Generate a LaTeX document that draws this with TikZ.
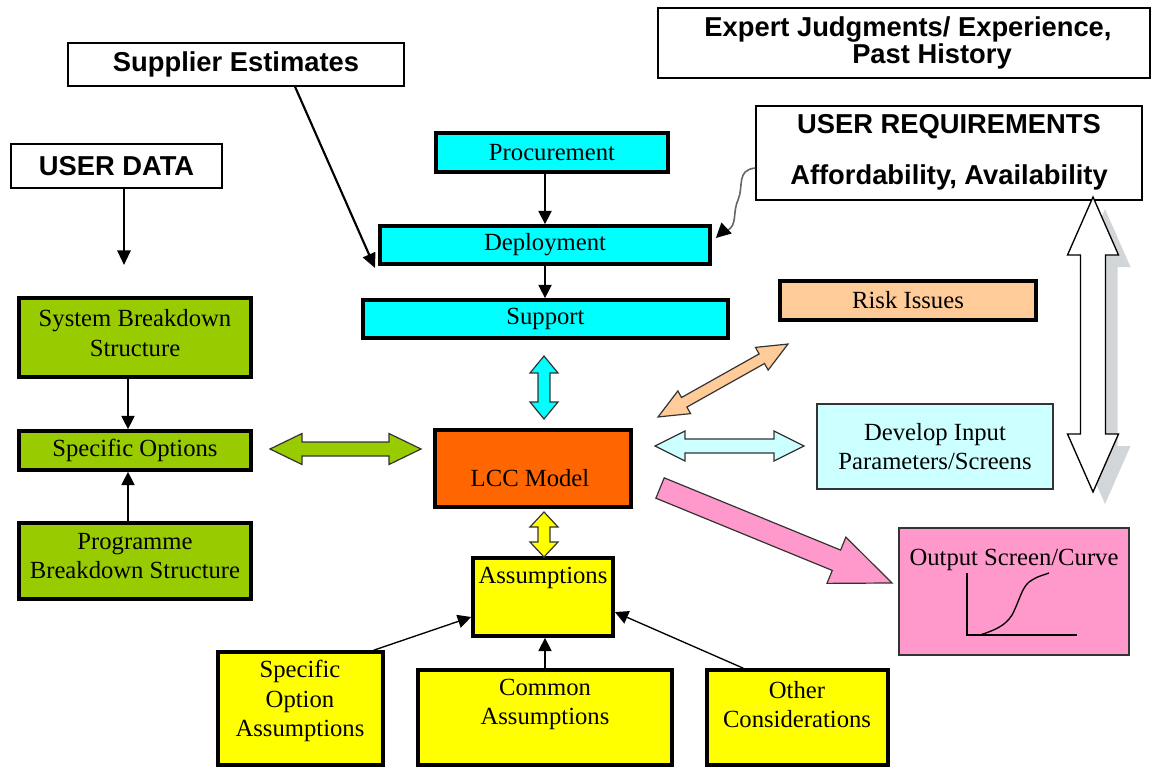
\documentclass[tikz,border=0pt]{standalone}
\usepackage{fontspec}
\setmainfont{Liberation Serif}
\setsansfont{Liberation Sans}
\usetikzlibrary{arrows.meta,calc}
\definecolor{cyanc}{HTML}{00FFFF}
\definecolor{greenc}{HTML}{99CC00}
\definecolor{orangec}{HTML}{FF6600}
\definecolor{yellowc}{HTML}{FFFF00}
\definecolor{peachc}{HTML}{FFCC99}
\definecolor{lcyanc}{HTML}{CCFFFF}
\definecolor{pinkc}{HTML}{FF99CC}
\definecolor{shadowc}{HTML}{D2D6D8}
\definecolor{edgec}{HTML}{333333}
\newcommand\serifsz{\rmfamily\fontsize{18.5}{22}\selectfont}
\newcommand\labsz{\sffamily\bfseries\fontsize{20.5}{19}\selectfont}
% double arrow: style, center, angle, half length, shaft half width, head half width, head length
\newcommand\dblarr[7]{%
  \path[#1, shift={#2}, rotate=#3] (-#4,0) -- (-#4+#7,#6) -- (-#4+#7,#5) -- (#4-#7,#5) -- (#4-#7,#6) -- (#4,0)
    -- (#4-#7,-#6) -- (#4-#7,-#5) -- (-#4+#7,-#5) -- (-#4+#7,-#6) -- cycle;}
% single arrow
\newcommand\sglarr[7]{%
  \path[#1, shift={#2}, rotate=#3] (-#4,#5) -- (#4-#7,#5) -- (#4-#7,#6) -- (#4,0)
    -- (#4-#7,-#6) -- (#4-#7,-#5) -- (-#4,-#5) -- cycle;}
\tikzset{
  size/.style 2 args={minimum width=#1*0.75pt, minimum height=#2*0.75pt},
  wbox/.style={draw=black, line width=1pt, fill=white, rectangle, inner sep=0pt, font=\labsz, align=center},
  tbox/.style={draw=black, line width=2.8pt, rectangle, inner sep=0pt, font=\serifsz, align=center},
  mbox/.style={draw=edgec, line width=1.5pt, rectangle, inner sep=0pt, font=\serifsz, align=center},
  txt/.style={inner sep=0pt, font=\serifsz, align=center},
  lab/.style={inner sep=0pt, font=\labsz, align=center},
  conn/.style={draw=black, line width=1pt, -{Triangle[length=10pt,width=10pt]}},
  bigconn/.style={draw=black, line width=1.6pt, -{Triangle[length=11pt,width=10pt]}},
  fatarrow/.style={draw=edgec, line width=0.9pt, line join=miter},
}
\begin{document}
\begin{tikzpicture}[x=0.75pt,y=-0.75pt]
\useasboundingbox (0,0) rectangle (1151,767);

% label boxes
\node[wbox,size={336}{43}] (sup) at (236,64.5) {Supplier Estimates};
\node[wbox,size={492}{70}] (exp) at (904,43) {};
\node[lab] (exp1) at (908,29) {Expert Judgments/ Experience,};
\node[lab] (exp2) at (932,56.5) {Past History};
\node[wbox,size={386}{94}] (ureq) at (949,153) {};
\node[lab] (ureq1) at (949,127) {USER REQUIREMENTS};
\node[lab] (ureq2) at (949,177) {Affordability, Availability};
\node[wbox,size={211}{44}] (udata) at (116.5,166) {USER DATA};

% coloured boxes
\node[tbox,fill=cyanc,size={232}{39}] (proc) at (552,152.5) {Procurement};
\node[tbox,fill=cyanc,size={330}{38}] (depl) at (545,245) {Deployment};
\node[tbox,fill=cyanc,size={365}{38}] (supp) at (545.5,319) {Support};
\node[tbox,fill=greenc,size={232}{79}] (sbs) at (135,337.5) {};
\node[txt] (sbst) at (135,333) {System Breakdown\\Structure};
\node[tbox,fill=greenc,size={232}{39}] (sopt) at (135,450.5) {Specific Options};
\node[tbox,fill=greenc,size={232}{76}] (pbs) at (135,561) {};
\node[txt] (pbst) at (135,556) {Programme\\Breakdown Structure};
\node[tbox,fill=orangec,size={196}{77}] (lcc) at (533,468.5) {};
\node[txt] (lcct) at (530,478) {LCC Model};
\node[tbox,fill=yellowc,size={140}{78}] (assum) at (543,597) {};
\node[txt] (assumt) at (543,578) {Assumptions};
\node[tbox,fill=peachc,size={256}{39}] (risk) at (908,300.5) {Risk Issues};
\node[mbox,fill=lcyanc,size={236}{85}] (dev) at (935,446.5) {Develop Input\\Parameters/Screens};
\node[mbox,fill=pinkc,size={230}{127}] (out) at (1014,591.5) {};
\node[txt] (outt) at (1014,560) {Output Screen/Curve};
\node[tbox,fill=yellowc,size={165}{113}] (soa) at (300.5,708.5) {};
\node[txt] (soat) at (300,701) {Specific\\Option\\Assumptions};
\node[tbox,fill=yellowc,size={254}{95}] (com) at (545,717.5) {};
\node[txt] (comt) at (545,704.5) {Common\\Assumptions};
\node[tbox,fill=yellowc,size={181}{95}] (oth) at (797.5,717.5) {};
\node[txt] (otht) at (797,704.5) {Other\\Considerations};

% output curve
\draw[line width=1pt] (967,573) -- (967,635) -- (1077,635);
\draw[line width=1pt] (980,635) .. controls (995,630) and (1005,626) .. (1012,615)
  .. controls (1020,600) and (1022,585) .. (1032,580) .. controls (1038,576) and (1044,575) .. (1049,573);

% free ends
\coordinate (udEnd) at (124,265);
\coordinate (supEnd) at (375,268);

% connectors
\draw[bigconn] ($(udata.south)+(7.5,0)$) -- (udEnd);
\draw[bigconn] ($(sup.south)+(59,0)$) -- (supEnd);
\draw[conn] (depl.north |- proc.south) -- (depl.north);
\draw[conn] (depl.south) -- (depl.south |- supp.north);
\draw[conn] ($(sbs.south)+(-7,0)$) -- ($(sopt.north)+(-7,0)$);
\draw[conn] ($(pbs.north)+(-7,0)$) -- ($(sopt.south)+(-7,0)$);
\draw[conn] ($(soa.north east)+(-11,0)$) -- ($(assum.west)+(0,20)$);
\draw[conn] (com.north) -- (com.north |- assum.south);
\draw[conn] ($(oth.north west)+(38,0)$) -- ($(assum.east)+(0,15)$);
\draw[draw=gray!80!black, line width=1.2pt, -{Triangle[length=11pt,width=11pt,color=black]}]
  ($(ureq.west)+(0,15)$) .. controls (736,170) and (744,186) .. (738,200)
  .. controls (732,214) and (738,224) .. (727,231) .. controls (722,235) and (718,236) .. ($(depl.east)+(4,-7)$);

% fat arrows
\dblarr{fill=shadowc}{(1105,356.5)}{90}{147.5}{12.5}{25.5}{58}
\dblarr{fill=white,draw=black,line width=1pt}{(1093,344.5)}{90}{147.5}{12.5}{25.5}{58}
\dblarr{fatarrow,fill=greenc}{(345.5,449)}{0}{75.5}{7}{15.5}{32}
\dblarr{fatarrow,fill=cyanc}{(544,387.5)}{90}{31.5}{6}{14}{17}
\dblarr{fatarrow,fill=yellowc}{(544,534.5)}{90}{22.5}{6}{14}{15}
\dblarr{fatarrow,fill=peachc}{(723,380.5)}{29.3}{74.5}{5.5}{13}{30}
\dblarr{fatarrow,fill=lcyanc}{(729.5,446)}{0}{74.5}{7}{15}{30}
\sglarr{fatarrow,fill=pinkc}{(776,535.5)}{-22.27}{125.3}{11}{25}{60}
\end{tikzpicture}
\end{document}
